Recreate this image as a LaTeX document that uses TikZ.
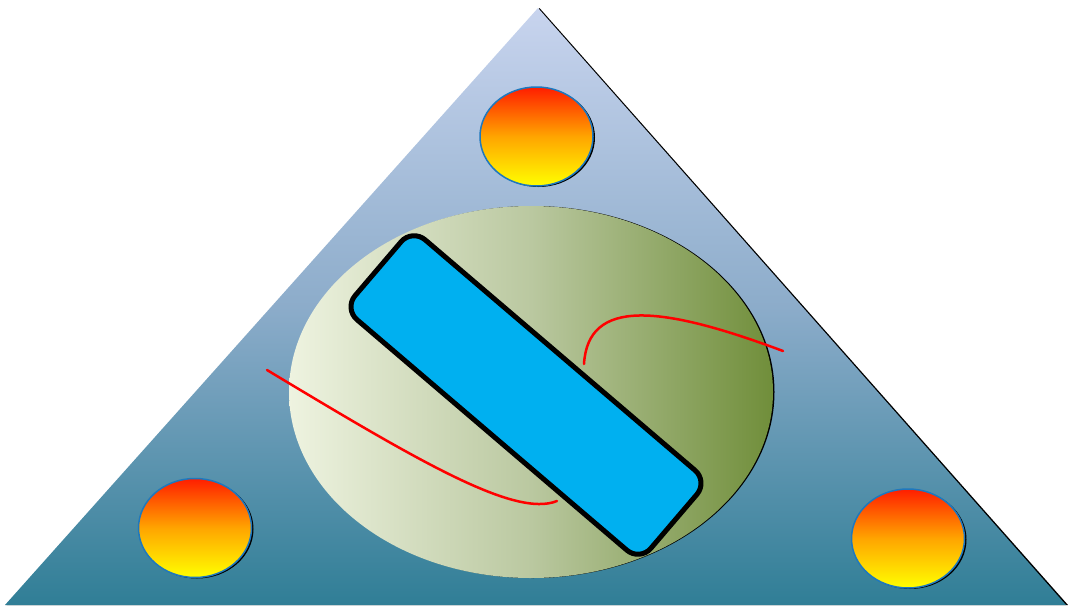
\documentclass[tikz,border=0pt]{standalone}
\usetikzlibrary{shapes.geometric}
\definecolor{triTop}{RGB}{200,212,238}
\definecolor{triMid}{RGB}{140,172,202}
\definecolor{triBot}{RGB}{48,126,150}
\definecolor{ellL}{RGB}{238,243,224}
\definecolor{ellM}{RGB}{186,200,160}
\definecolor{ellR}{RGB}{112,142,58}
\definecolor{ballRed}{RGB}{255,30,0}
\definecolor{ballMid}{RGB}{255,165,0}
\definecolor{ballYel}{RGB}{255,255,0}
\definecolor{ballEdge}{RGB}{30,120,190}
\definecolor{barBlue}{RGB}{0,176,240}
\tikzset{
  ball/.style={ellipse, minimum width=113pt, minimum height=99pt, inner sep=0pt,
    draw=ballEdge, line width=1.5pt, top color=ballRed, bottom color=ballYel, middle color=ballMid},
  ballshadow/.style={ellipse, minimum width=113pt, minimum height=99pt, inner sep=0pt,
    fill=black},
  wire/.style={red, line width=2.5pt, line cap=round}
}
\begin{document}
\begin{tikzpicture}[x=1pt,y=-1pt]
\useasboundingbox (0,0) rectangle (1068,605);
% triangle with shadow
\fill[black] (539.5,8) -- (1068,605) -- (6.5,605) -- cycle;
\shade[top color=triTop, bottom color=triBot, middle color=triMid] (538,8) -- (1066,605) -- (5,605) -- cycle;
% balls
\node[ballshadow] (s1) at (538.5,137.5) {};
\node[ball] (b1) at (536.5,136.5) {};
\node[ballshadow] (s2) at (197,529) {};
\node[ball] (b2) at (195,528) {};
\node[ballshadow] (s3) at (910,539.5) {};
\node[ball] (b3) at (908,538.5) {};
% big ellipse
\fill[black] (532.5,392) ellipse [x radius=242pt, y radius=186pt];
\shade[left color=ellL, right color=ellR, middle color=ellM] (531,392) ellipse [x radius=242pt, y radius=186pt];
% red wires
\coordinate (w1a) at (267,370);
\coordinate (w1b) at (557,501);
\coordinate (w2a) at (584,364);
\coordinate (w2b) at (783,351);
\draw[wire] (w1a) .. controls (420,462) and (515,518) .. (w1b);
\draw[wire] (w2a) .. controls (588,298) and (660,305) .. (w2b);
% bar
\node[draw=black, line width=5pt, fill=barBlue, rounded corners=17pt,
  minimum width=389pt, minimum height=105pt, inner sep=0pt, rotate=-40.5] (bar) at (526,395) {};
\end{tikzpicture}
\end{document}
